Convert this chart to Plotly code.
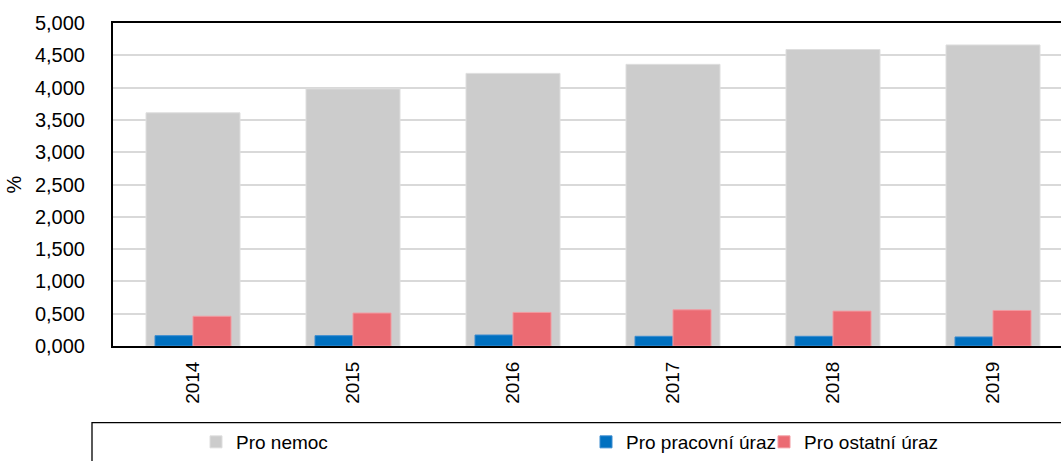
import plotly.graph_objects as go

years = ['2014', '2015', '2016', '2017', '2018', '2019']
pro_nemoc = [3.61, 3.98, 4.22, 4.36, 4.59, 4.66]
pro_pracovni_uraz = [0.16, 0.16, 0.17, 0.15, 0.15, 0.14]
pro_ostatni_uraz = [0.46, 0.51, 0.52, 0.56, 0.54, 0.55]

W, H = 1061, 461
L, T = 113, 23
BOTTOM = 356
plot_w = W - L
plot_h = BOTTOM - T
B = H - BOTTOM

def px_x(p):
    return (p - L) / plot_w

def px_y(p):
    return (BOTTOM - p) / plot_h

FONT = 'Liberation Sans, Arial, sans-serif'

fig = go.Figure()
fig.add_trace(go.Bar(
    x=years, y=pro_nemoc, name='Pro nemoc',
    width=0.5875, offset=-0.29375,
    marker=dict(color='#cccccc', line=dict(color='#dedede', width=1)),
    legend='legend',
))
fig.add_trace(go.Bar(
    x=years, y=pro_pracovni_uraz, name='Pro pracovní úraz',
    width=0.2375, offset=-0.2375,
    marker=dict(color='#0070c0', line=dict(color='#3a8cd0', width=1)),
    legend='legend2',
))
fig.add_trace(go.Bar(
    x=years, y=pro_ostatni_uraz, name='Pro ostatní úraz',
    width=0.2375, offset=0.0,
    marker=dict(color='#eb6b73', line=dict(color='#f29aa0', width=1)),
    legend='legend3',
))

leg_common = dict(orientation='h', yanchor='middle', y=px_y(455), xanchor='left',
                  font=dict(family=FONT, size=19, color='#000000'),
                  bgcolor='rgba(0,0,0,0)', borderwidth=0, itemwidth=30)

fig.update_layout(
    width=W, height=H,
    margin=dict(l=L, r=0, t=T, b=B, pad=0),
    paper_bgcolor='white', plot_bgcolor='white',
    barmode='overlay',
    separators=', ',
    font=dict(family=FONT, size=19, color='#000000'),
    showlegend=True,
    legend=dict(x=px_x(196), **leg_common),
    legend2=dict(x=px_x(586), **leg_common),
    legend3=dict(x=px_x(764), **leg_common),
    xaxis=dict(
        type='category', range=[-0.5, -0.5 + plot_w / 160.0],
        showline=True, linecolor='#000000', linewidth=2, mirror=True,
        showgrid=False, tickangle=-90, ticks='', ticklabelstandoff=6,
        tickfont=dict(family=FONT, size=19, color='#000000'),
    ),
    yaxis=dict(
        range=[0, 5], dtick=0.5, tick0=0, tickformat='.3f',
        showline=True, linecolor='#000000', linewidth=2, mirror=False,
        showgrid=True, gridcolor='#d9d9d9', gridwidth=1.5,
        zeroline=False, ticks='', ticklabelstandoff=22,
        tickfont=dict(family=FONT, size=20, color='#000000'),
        title=dict(text='%', standoff=8, font=dict(family=FONT, size=20, color='#000000')),
    ),
    shapes=[dict(
        type='rect', xref='paper', yref='paper',
        x0=px_x(92), x1=1.05, y0=px_y(435), y1=px_y(500),
        line=dict(color='#000000', width=1.3), fillcolor='rgba(0,0,0,0)', layer='above',
    )],
)

fig.write_html('out.html', config={'displayModeBar': False},
               post_script="document.body.style.margin='0';document.body.style.overflow='hidden';")
